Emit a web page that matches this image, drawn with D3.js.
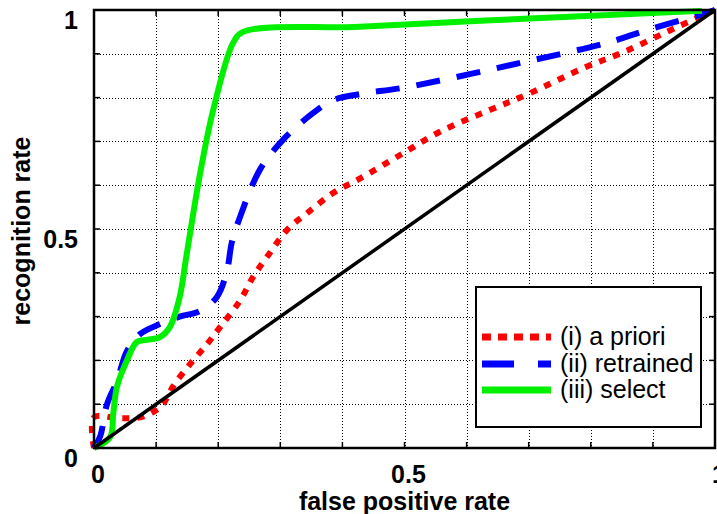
<!DOCTYPE html>
<meta charset='utf-8'>
<style>
body { margin: 0; background: #fff; }
svg { display: block; }
text { font-family: 'Liberation Sans', Arial, sans-serif; fill: #000; }
.tick-label { font-size: 25px; font-weight: bold; }
.axis-title { font-size: 25px; font-weight: bold; }
.legend-label { font-size: 25px; }
</style>
<svg width='717' height='514'></svg>
<script src='https://cdn.jsdelivr.net/npm/d3@7'></script>
<script>

// curves (false positive rate, recognition rate)
const aprioriX = [0, 0, 0.04, 0.074, 0.095, 0.111, 0.127, 0.155, 0.182, 0.203, 0.235, 0.256, 0.279, 0.311, 0.343, 0.385, 0.428, 0.493, 0.557, 0.638, 0.702, 0.789, 0.853, 0.918, 0.971, 1];
const aprioriY = [0, 0.07, 0.068, 0.07, 0.082, 0.1, 0.14, 0.192, 0.237, 0.276, 0.336, 0.39, 0.437, 0.498, 0.536, 0.582, 0.615, 0.669, 0.722, 0.772, 0.81, 0.868, 0.904, 0.947, 0.982, 1];

const retrainedX = [0, 0.01, 0.021, 0.037, 0.053, 0.074, 0.106, 0.138, 0.171, 0.198, 0.214, 0.222, 0.235, 0.267, 0.304, 0.353, 0.385, 0.428, 0.504, 0.692, 0.826, 0.89, 0.976, 1];
const retrainedY = [0, 0.027, 0.1, 0.153, 0.221, 0.26, 0.283, 0.3, 0.313, 0.345, 0.404, 0.47, 0.527, 0.635, 0.703, 0.765, 0.794, 0.808, 0.824, 0.881, 0.925, 0.954, 0.989, 1];

const selectX = [0, 0.026, 0.031, 0.037, 0.053, 0.069, 0.085, 0.106, 0.122, 0.138, 0.149, 0.171, 0.192, 0.224, 0.24, 0.428, 0.692, 0.979];
const selectY = [0, 0.025, 0.078, 0.14, 0.2, 0.242, 0.247, 0.253, 0.276, 0.345, 0.44, 0.628, 0.772, 0.925, 0.95, 0.962, 0.98, 0.998];

const chanceX = [0, 1];
const chanceY = [0, 1];

const tickValues = [0, 0.5, 1];
const tickLabels = ['0', '0.5', '1'];
const gridValues = [0.1, 0.2, 0.3, 0.4, 0.5, 0.6, 0.7, 0.8, 0.9];

const seriesNames = ['(i) a priori', '(ii) retrained', '(iii) select'];

const plotLeft = 94, plotRight = 715, plotTop = 10, plotBottom = 448;

const x = d3.scaleLinear().domain([0, 1]).range([plotLeft, plotRight]);
const y = d3.scaleLinear().domain([0, 1]).range([plotBottom, plotTop]);

const svg = d3.select('svg');

// dotted grid
const grid = svg.append('g')
  .attr('stroke', '#000')
  .attr('stroke-width', 1)
  .attr('stroke-dasharray', '1,2');

grid.selectAll('line.v')
  .data(gridValues)
  .enter().append('line')
  .attr('class', 'v')
  .attr('x1', d => Math.round(x(d)) + 0.5)
  .attr('x2', d => Math.round(x(d)) + 0.5)
  .attr('y1', plotTop)
  .attr('y2', plotBottom);

grid.selectAll('line.h')
  .data(gridValues)
  .enter().append('line')
  .attr('class', 'h')
  .attr('y1', d => Math.round(y(d)) + 0.5)
  .attr('y2', d => Math.round(y(d)) + 0.5)
  .attr('x1', plotLeft)
  .attr('x2', plotRight);

// inward ticks on all four sides
const tickLen = 6;
const ticks = svg.append('g')
  .attr('stroke', '#000')
  .attr('stroke-width', 1.5);

gridValues.forEach(function(v) {
  ticks.append('line').attr('x1', x(v)).attr('x2', x(v)).attr('y1', plotBottom).attr('y2', plotBottom - tickLen);
  ticks.append('line').attr('x1', x(v)).attr('x2', x(v)).attr('y1', plotTop).attr('y2', plotTop + tickLen);
  ticks.append('line').attr('y1', y(v)).attr('y2', y(v)).attr('x1', plotLeft).attr('x2', plotLeft + tickLen);
  ticks.append('line').attr('y1', y(v)).attr('y2', y(v)).attr('x1', plotRight).attr('x2', plotRight - tickLen);
});

const line = d3.line()
  .x(d => x(d[0]))
  .y(d => y(d[1]))
  .curve(d3.curveCatmullRom.alpha(0.5));

function pairs(xs, ys) {
  return xs.map((v, i) => [v, ys[i]]);
}

const curves = [
  { data: pairs(aprioriX, aprioriY), color: '#ff0000', dash: '7,8' },
  { data: pairs(retrainedX, retrainedY), color: '#0000ff', dash: '24,17' },
  { data: pairs(selectX, selectY), color: '#00f000', dash: null },
  { data: pairs(chanceX, chanceY), color: '#000000', dash: null }
];

svg.append('g')
  .attr('fill', 'none')
  .selectAll('path')
  .data(curves)
  .enter().append('path')
  .attr('d', d => line(d.data))
  .attr('stroke', d => d.color)
  .attr('stroke-width', (d, i) => i === 3 ? 3.5 : 6)
  .attr('stroke-dasharray', d => d.dash)
  .attr('stroke-linejoin', 'round');

// frame
svg.append('rect')
  .attr('x', plotLeft)
  .attr('y', plotTop)
  .attr('width', plotRight - plotLeft)
  .attr('height', plotBottom - plotTop)
  .attr('fill', 'none')
  .attr('stroke', '#000')
  .attr('stroke-width', 2.5);

// tick labels (the x "1" runs off the right edge, as in the original)
svg.selectAll('text.ylab')
  .data(tickValues)
  .enter().append('text')
  .attr('class', 'tick-label ylab')
  .attr('text-anchor', 'end')
  .attr('x', plotLeft - 16)
  .attr('y', d => y(d) + 19)
  .text((d, i) => tickLabels[i]);

svg.selectAll('text.xlab')
  .data(tickValues)
  .enter().append('text')
  .attr('class', 'tick-label xlab')
  .attr('text-anchor', 'middle')
  .attr('x', d => x(d) + 4)
  .attr('y', 483)
  .text((d, i) => tickLabels[i]);

svg.append('text')
  .attr('class', 'axis-title')
  .attr('text-anchor', 'middle')
  .attr('x', (plotLeft + plotRight) / 2)
  .attr('y', 510)
  .text('false positive rate');

svg.append('text')
  .attr('class', 'axis-title')
  .attr('text-anchor', 'middle')
  .attr('transform', 'translate(30,' + ((plotTop + plotBottom) / 2 + 2) + ') rotate(-90)')
  .text('recognition rate');

// legend
const legend = svg.append('g');

legend.append('rect')
  .attr('x', 476)
  .attr('y', 287)
  .attr('width', 225)
  .attr('height', 140)
  .attr('fill', '#fff')
  .attr('stroke', '#000')
  .attr('stroke-width', 2);

const legendDash = ['9,7', '32,24', null];
const legendRows = [337, 364, 390];

seriesNames.forEach(function(name, i) {
  legend.append('line')
    .attr('x1', 482)
    .attr('x2', 551)
    .attr('y1', legendRows[i])
    .attr('y2', legendRows[i])
    .attr('stroke', curves[i].color)
    .attr('stroke-width', 7)
    .attr('stroke-dasharray', legendDash[i]);
  legend.append('text')
    .attr('class', 'legend-label')
    .attr('x', 560)
    .attr('y', legendRows[i] + 8)
    .text(name);
});

</script>
